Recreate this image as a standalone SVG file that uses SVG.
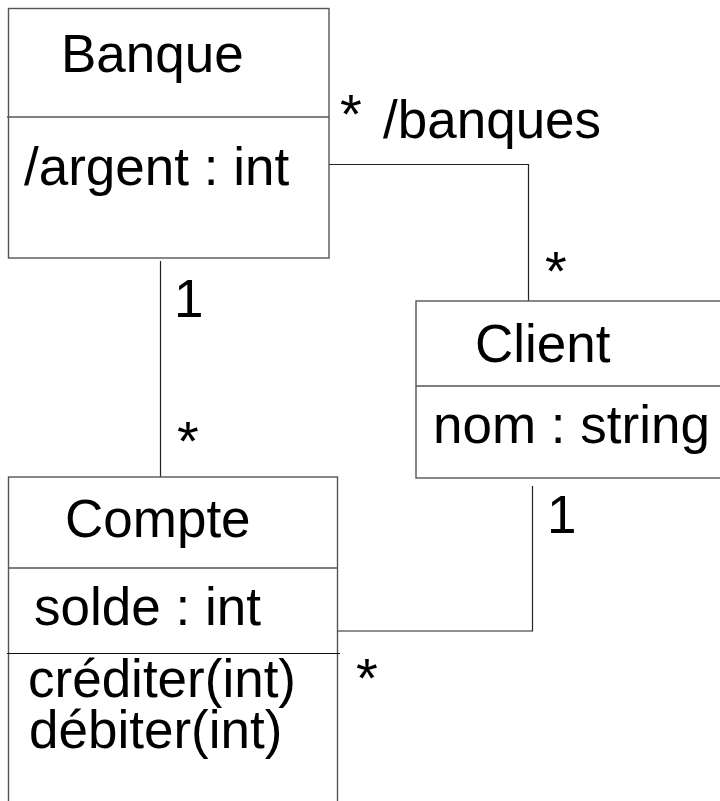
<svg xmlns="http://www.w3.org/2000/svg" width="720" height="801" viewBox="0 0 720 801">
<style>
.box{fill:#fff;stroke:#555;stroke-width:1.4}
.div{stroke:#555;stroke-width:1.4}
.conn{fill:none;stroke:#222;stroke-width:1.2}
text{font-family:"Liberation Sans",Arial,sans-serif;font-size:53px;fill:#000}
.star{font-size:56px}
</style>
<rect width="720" height="801" fill="#fff"/>
<g id="connectors">
<path class="conn" d="M329,164.5 H528.5 V301"/>
<path class="conn" d="M160.5,261 V477"/>
<path class="conn" d="M532.5,486 V631 H338"/>
<text class="star" x="340" y="133">*</text>
<text x="383" y="138">/banques</text>
<text class="star" x="545" y="290">*</text>
<text x="174" y="317">1</text>
<text class="star" x="177" y="460">*</text>
<text x="547" y="533">1</text>
<text class="star" x="356" y="697">*</text>
</g>
<g id="Banque">
<rect class="box" x="8.5" y="8.5" width="320.5" height="249.5"/>
<line class="div" x1="7" y1="117" x2="329" y2="117"/>
<text x="61" y="72">Banque</text>
<text x="24" y="185">/argent : int</text>
</g>
<g id="Client">
<rect class="box" x="416" y="301" width="320" height="177"/>
<line class="div" x1="416" y1="386" x2="720" y2="386"/>
<text x="475" y="362">Client</text>
<text x="433" y="443">nom : string</text>
</g>
<g id="Compte">
<rect class="box" x="8.5" y="477" width="329" height="340"/>
<line class="div" x1="8.5" y1="568" x2="337.5" y2="568"/>
<line x1="7" y1="653.5" x2="340" y2="653.5" stroke="#111" stroke-width="1.2"/>
<text x="65" y="537">Compte</text>
<text x="34" y="625">solde : int</text>
<text><tspan x="28" y="697">créditer(int)</tspan><tspan x="29" y="748">débiter(int)</tspan></text>
</g>
</svg>
